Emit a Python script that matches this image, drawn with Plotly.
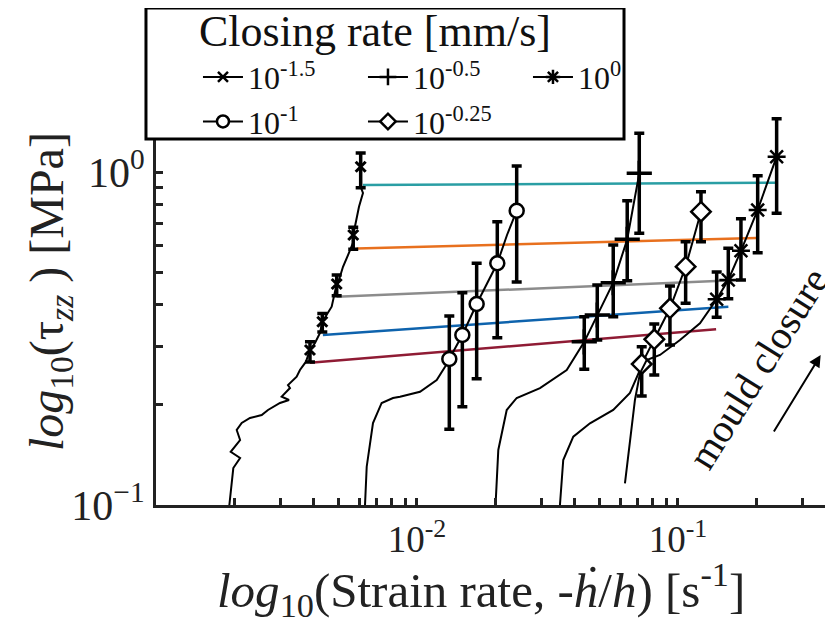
import plotly.graph_objects as go

# ---------------- data ----------------
rate_labels = ["10<sup>-1.5</sup>", "10<sup>-1</sup>", "10<sup>-0.5</sup>", "10<sup>-0.25</sup>", "10<sup>0</sup>"]
legend_groups = ["c1", "c1", "c2", "c2", "c3"]
legend_title = "Closing rate [mm/s]"

# closing rate 10^-1.5 (x markers)
a_pts_x = [0.00389, 0.004337, 0.004924, 0.005698, 0.006085]
a_pts_y = [0.292, 0.355, 0.461, 0.647, 1.037]
a_hi = [0.309, 0.376, 0.491, 0.682, 1.140]
a_lo = [0.269, 0.331, 0.425, 0.586, 0.897]
a_curve_x = [0.00191, 0.00195, 0.001978, 0.0021, 0.001933, 0.0021, 0.002038, 0.00213, 0.002292,
             0.002541, 0.002686, 0.002986, 0.003233, 0.003031, 0.003261, 0.003204, 0.003459,
             0.003561, 0.003755, 0.00389, 0.004066, 0.00425, 0.004337, 0.004711, 0.004924,
             0.004981, 0.005206, 0.005441, 0.005687, 0.005698, 0.00589, 0.005995, 0.006209,
             0.006085, 0.006047]
a_curve_y = [0.1, 0.1189, 0.1291, 0.1384, 0.1445, 0.1567, 0.168, 0.1763, 0.1825,
             0.1863, 0.1929, 0.2025, 0.2067, 0.2115, 0.2245, 0.2292, 0.2428,
             0.2543, 0.2694, 0.292, 0.3065, 0.3285, 0.355, 0.394, 0.461,
             0.464, 0.5194, 0.5632, 0.6121, 0.647, 0.7276, 0.7866, 0.865,
             0.9034, 1.037]

# closing rate 10^-1 (circles)
b_pts_x = [0.0133, 0.01492, 0.01693, 0.02031, 0.0241]
b_pts_y = [0.2745, 0.324, 0.4015, 0.532, 0.765]
b_hi = [0.3694, 0.434, 0.532, 0.709, 1.042]
b_lo = [0.1688, 0.1973, 0.2394, 0.318, 0.467]
b_curve_x = [0.006322, 0.006417, 0.006783, 0.007322, 0.008092, 0.008608, 0.01027, 0.0119,
             0.01281, 0.0133, 0.01492, 0.01693, 0.01854, 0.02031, 0.02213, 0.0241]
b_curve_y = [0.1, 0.1303, 0.1763, 0.2025, 0.2096, 0.2115, 0.2189, 0.2373,
             0.2602, 0.2745, 0.324, 0.4015, 0.464, 0.532, 0.647, 0.765]

# closing rate 10^-0.5 (plus)
c_pts_x = [0.04375, 0.04907, 0.05649, 0.06391, 0.07107]
c_pts_y = [0.309, 0.372, 0.465, 0.628, 0.991]
c_hi = [0.3676, 0.4577, 0.6036, 0.820, 1.307]
c_lo = [0.2555, 0.313, 0.3676, 0.4716, 0.6545]
c_curve_x = [0.0200, 0.02049, 0.02207, 0.0241, 0.0296, 0.03747, 0.04375, 0.04907, 0.05649,
             0.06391, 0.07107]
c_curve_y = [0.1, 0.1463, 0.1929, 0.2096, 0.2245, 0.2543, 0.309, 0.372, 0.465,
             0.628, 0.991]

# closing rate 10^-0.25 (diamonds)
d_pts_x = [0.07262, 0.08114, 0.09317, 0.107, 0.1225]
d_pts_y = [0.2651, 0.3145, 0.3898, 0.5194, 0.760]
d_hi = [0.2988, 0.3497, 0.4545, 0.6175, 0.873]
d_lo = [0.2125, 0.2457, 0.3022, 0.4035, 0.6175]
d_curve_x = [0.0353, 0.03634, 0.03971, 0.04601, 0.05649, 0.06546, 0.07152, 0.07262, 0.08114,
             0.09317, 0.107, 0.1225]
d_curve_y = [0.1, 0.1365, 0.1604, 0.1759, 0.1929, 0.217, 0.2543, 0.2651, 0.3145,
             0.3898, 0.5194, 0.760]

# closing rate 10^0 (stars)
e_pts_x = [0.1407, 0.1559, 0.1743, 0.202, 0.2388]
e_pts_y = [0.4147, 0.474, 0.58, 0.769, 1.112]
e_hi = [0.501, 0.59, 0.724, 0.975, 1.446]
e_lo = [0.3662, 0.4165, 0.474, 0.5724, 0.7515]
e_curve_x = [0.06264, 0.06546, 0.06841, 0.07152, 0.07586, 0.08531, 0.1018, 0.1214, 0.1407,
             0.1559, 0.1743, 0.202, 0.2388]
e_curve_y = [0.1162, 0.1567, 0.2067, 0.2485, 0.2725, 0.2822, 0.313, 0.3514, 0.4147,
             0.474, 0.58, 0.769, 1.112]

# fitted power-law lines (start, end)
fit_x = [[0.00621, 0.2355], [0.00587, 0.2003], [0.00492, 0.1728], [0.00436, 0.156], [0.00389, 0.140]]
fit_y = [[0.914, 0.929], [0.589, 0.634], [0.422, 0.474], [0.324, 0.394], [0.2675, 0.337]]
fit_colors = ["#2a9ea4", "#e8701e", "#8c8c8c", "#0e63ad", "#8f1b34"]

# tick positions (decades labelled, intermediate ticks unlabelled)
x_tickvals = [0.002, 0.003, 0.004, 0.005, 0.006, 0.007, 0.008, 0.009, 0.01,
              0.02, 0.03, 0.04, 0.05, 0.06, 0.07, 0.08, 0.09, 0.1, 0.2, 0.3]
x_ticktext = ["", "", "", "", "", "", "", "", "10<sup>-2</sup>",
              "", "", "", "", "", "", "", "", "10<sup>-1</sup>", "", ""]
y_tickvals = [0.1, 0.2, 0.3, 0.4, 0.5, 0.6, 0.7, 0.8, 0.9, 1, 2]
y_ticktext = ["10<sup>\u22121</sup>", "", "", "", "", "", "", "", "", "10<sup>0</sup>", ""]

x_title = "<i>log</i><sub>10</sub>(Strain rate, -<i>\u1e23</i>/<i>h</i>) [s<sup>-1</sup>]"
y_title = "<i>log</i><sub>10</sub>(\u03c4<sub><i>zz</i></sub> ) [MPa]"

FONT = "Liberation Serif"

series = [
    (a_pts_x, a_pts_y, a_hi, a_lo, a_curve_x, a_curve_y, "x-thin", 10, 3.0),
    (b_pts_x, b_pts_y, b_hi, b_lo, b_curve_x, b_curve_y, "circle-open", 14, 2.5),
    (c_pts_x, c_pts_y, c_hi, c_lo, c_curve_x, c_curve_y, "cross-thin", 18, 3.5),
    (d_pts_x, d_pts_y, d_hi, d_lo, d_curve_x, d_curve_y, "diamond-open", 15, 2.5),
    (e_pts_x, e_pts_y, e_hi, e_lo, e_curve_x, e_curve_y, "asterisk", 15, 2.5),
]

fig = go.Figure()

# fit lines
for fx, fy, col in zip(fit_x, fit_y, fit_colors):
    fig.add_trace(go.Scatter(x=fx, y=fy, mode="lines", line=dict(color=col, width=2.5),
                             showlegend=False, hoverinfo="skip"))

# curves and error-bar points
for px, py, hi, lo, cx, cy, sym, size, lw in series:
    fig.add_trace(go.Scatter(x=cx, y=cy, mode="lines", line=dict(color="black", width=2),
                             showlegend=False, hoverinfo="skip"))
    plus = [h - v for h, v in zip(hi, py)]
    minus = [v - l for v, l in zip(py, lo)]
    fill = "white" if "open" in sym else "black"
    fig.add_trace(go.Scatter(
        x=px, y=py, mode="markers",
        marker=dict(symbol=sym.replace("-open", ""), size=size, color=fill,
                    line=dict(color="black", width=lw)),
        error_y=dict(type="data", symmetric=False, array=plus, arrayminus=minus,
                     color="black", thickness=3.5, width=5),
        showlegend=False))

# legend-only entries, grouped in columns: (-1.5, -1), (-0.5, -0.25), (0)
for idx in range(5):
    _, _, _, _, _, _, sym, size, lw = series[idx]
    fill = "white" if "open" in sym else "black"
    fig.add_trace(go.Scatter(
        x=[None], y=[None], mode="lines+markers", name=rate_labels[idx],
        legendgroup=legend_groups[idx],
        line=dict(color="black", width=2),
        marker=dict(symbol=sym.replace("-open", ""), size=min(size, 12), color=fill,
                    line=dict(color="black", width=2.5))))

# page body has an 8px margin: figure is 825x618 so that it fills the 833x626 window
fig.update_layout(
    width=825, height=618,
    margin=dict(l=148, r=0, t=12, b=121, autoexpand=False),
    paper_bgcolor="white", plot_bgcolor="white",
    font=dict(family=FONT, color="#222222", size=30),
    showlegend=True,
    legend=dict(
        orientation="h", traceorder="grouped", x=0.062, xanchor="left", y=0.939, yanchor="top",
        entrywidth=110, entrywidthmode="pixels", itemwidth=40,
        bgcolor="rgba(0,0,0,0)", borderwidth=0,
        font=dict(family=FONT, size=32, color="#111111"),
        tracegroupgap=0,
    ),
    xaxis=dict(
        type="log", range=[-3, -0.406],
        showline=True, linecolor="#222222", linewidth=3, mirror=False,
        ticks="inside", ticklen=7, tickwidth=2.5, tickcolor="#222222",
        tickmode="array", tickvals=x_tickvals, ticktext=x_ticktext,
        tickfont=dict(family=FONT, size=37, color="#222222"),
        showgrid=False, zeroline=False,
    ),
    yaxis=dict(
        type="log", range=[-1, 0.4565],
        showline=True, linecolor="#222222", linewidth=3, mirror=False,
        ticks="inside", ticklen=7, tickwidth=2.5, tickcolor="#222222",
        tickmode="array", tickvals=y_tickvals, ticktext=y_ticktext,
        tickfont=dict(family=FONT, size=42, color="#222222"),
        showgrid=False, zeroline=False,
    ),
    shapes=[
        # legend frame
        dict(type="rect", xref="paper", yref="paper", x0=-0.0148, x1=0.6913, y0=0.7546, y1=1.0247,
             line=dict(color="black", width=3), fillcolor="white", layer="above"),
    ],
    annotations=[
        dict(text=legend_title, xref="paper", yref="paper", x=0.3235, y=0.977,
             xanchor="center", yanchor="middle", showarrow=False,
             font=dict(family=FONT, size=44, color="#111111")),
        dict(text=x_title, xref="paper", yref="paper", x=0.480, y=-0.175,
             xanchor="center", yanchor="middle", showarrow=False,
             font=dict(family=FONT, size=49, color="#222222")),
        dict(text=y_title, xref="paper", yref="paper", x=-0.1566, y=0.441,
             xanchor="center", yanchor="middle", showarrow=False, textangle=-90,
             font=dict(family=FONT, size=48, color="#222222")),
        dict(text="mould closure", xref="paper", yref="paper", x=0.889, y=0.282,
             xanchor="center", yanchor="middle",
             showarrow=False, textangle=-58, font=dict(family=FONT, size=40, color="#111111")),
        dict(text="", xref="paper", yref="paper", x=0.9818, y=0.3093, ax=-47.7, ay=78,
             showarrow=True, arrowhead=2, arrowsize=1.2, arrowwidth=2, arrowcolor="black"),
    ],
)

fig.write_html("out.html")
